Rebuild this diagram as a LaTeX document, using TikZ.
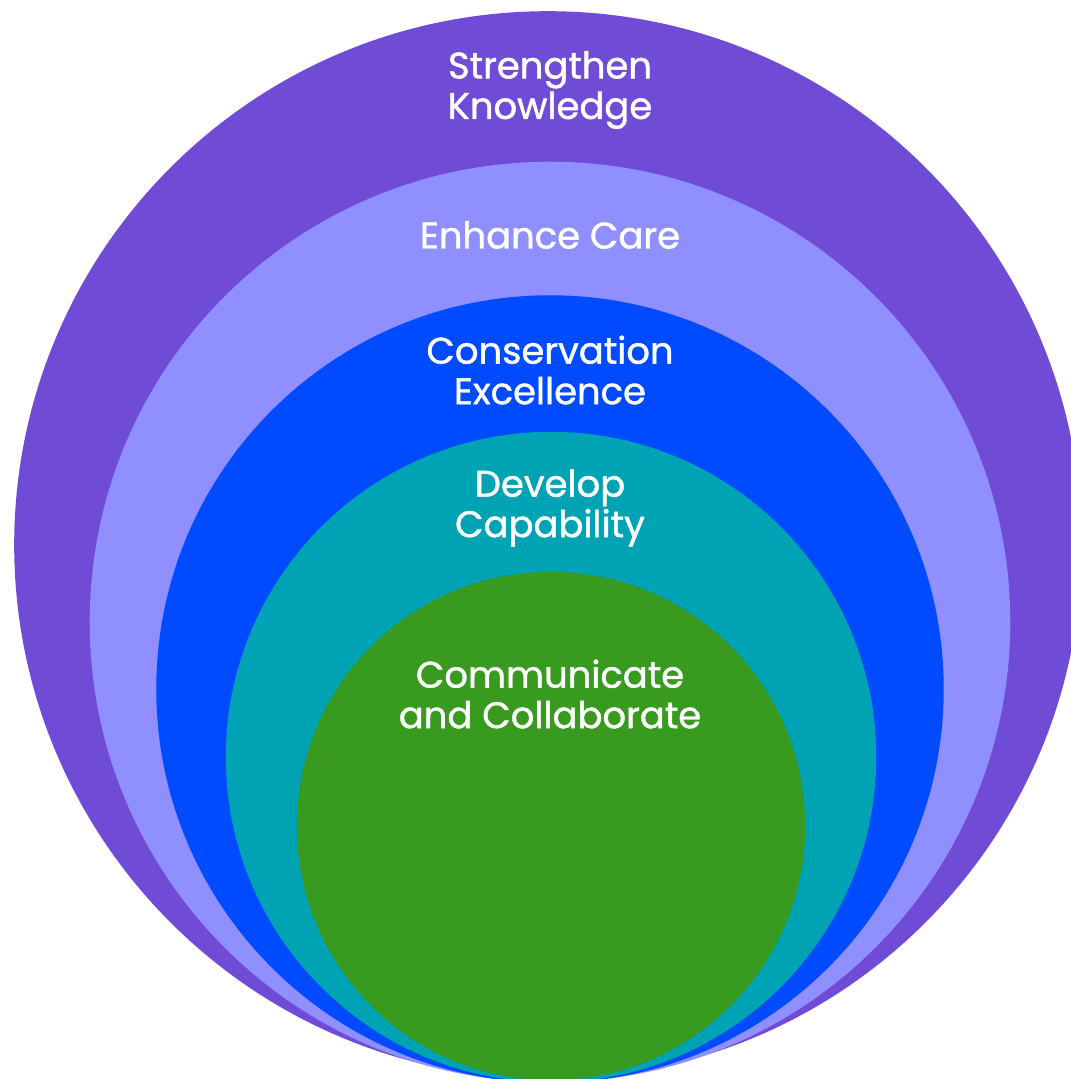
\documentclass[tikz,border=0pt]{standalone}
\usepackage{fontspec}
\setmainfont{Poppins}
\newfontfamily\ringfont{Poppins}[FakeBold=1.2]
\usetikzlibrary{positioning}

\definecolor{knowpurple}{HTML}{704CD6}
\definecolor{carelilac}{HTML}{8F8FFF}
\definecolor{consblue}{HTML}{004BFF}
\definecolor{capteal}{HTML}{00A3B3}
\definecolor{commgreen}{HTML}{389A1E}

\begin{document}
\begin{tikzpicture}[x=0.01cm,y=-0.01cm,
    ring/.style={circle,inner sep=0pt,outer sep=0pt},
    ringlabel/.style={text=white,align=center,font=\ringfont\fontsize{10.5}{11.5}\selectfont}]
      \useasboundingbox (0,0) rectangle (1071,1079);

      % nested circles, all touching at the bottom
      \node[ring,fill=knowpurple,minimum size=10.67cm] (Knowledge)     at (548,545) {};
      \node[ring,fill=carelilac, minimum size=9.20cm]  (Care)          at (550,622) {};
      \node[ring,fill=consblue,  minimum size=7.87cm]  (Conservation)  at (550,689) {};
      \node[ring,fill=capteal,   minimum size=6.50cm]  (Capability)    at (551,757) {};
      \node[ring,fill=commgreen, minimum size=5.08cm]  (Communicate)   at (551,826) {};

      % labels near the top of each circle
      \node[ringlabel] (KnowledgeText)    at (550,90)  {Strengthen\\Knowledge};
      \node[ringlabel] (CareText)         at (550,235) {Enhance Care};
      \node[ringlabel] (ConservationText) at (550,370) {Conservation\\Excellence};
      \node[ringlabel] (CapabilityText)   at (550,508) {Develop\\Capability};
      \node[ringlabel] (CommunicateText)  at (550,694) {Communicate\\and Collaborate};

    \end{tikzpicture}
\end{document}
